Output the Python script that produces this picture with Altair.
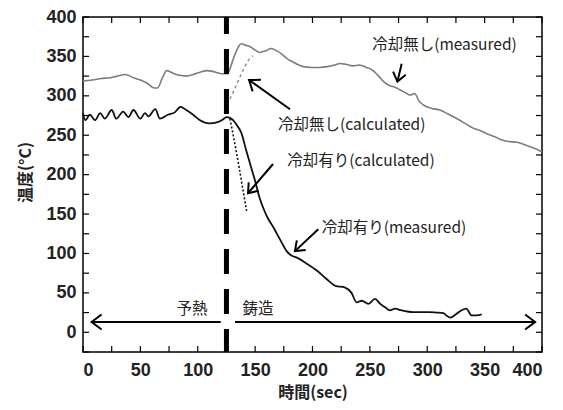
import math
import altair as alt
import pandas as pd

# ---------------- data ----------------
# 冷却無し (measured) – gray
nc_x = [0, 8, 16, 24, 30, 37, 44, 50, 56, 62, 65, 69, 73, 78, 84, 90, 96, 102, 108, 113, 118,
        122, 126, 128, 131, 134, 138, 142, 146, 150, 154, 159, 164, 169, 174, 178, 183, 188, 192,
        199, 206, 213, 219, 224, 229, 235, 241, 247, 252, 257, 262, 267, 272, 277, 281, 285, 289,
        293, 297, 304, 311, 318, 326, 333, 340, 346, 352, 359, 365, 371, 378, 385, 392, 397, 400]
nc_y = [319, 320, 322, 323, 325, 327, 323, 320, 316, 310, 310, 322, 332, 329, 326, 325, 327,
        330, 332, 331, 329, 328, 328, 334, 347, 358, 366, 364, 362, 358, 355, 357, 360, 357, 352,
        347, 343, 339, 337, 336, 336, 337, 339, 341, 340, 338, 339, 336, 333, 326, 318, 313, 311,
        307, 304, 301, 303, 293, 288, 284, 282, 277, 271, 265, 259, 256, 252, 248, 244, 242, 241,
        238, 234, 231, 229]

# 冷却有り (measured) – black
c_x = [0, 2, 6, 10.5, 15, 19, 25, 29, 35, 39.5, 44, 50, 54, 57, 63, 67, 74, 80, 85, 90, 96, 102,
       110, 118, 122, 125, 128, 131, 134, 138, 142, 146, 150, 154, 157, 161, 166, 172, 177.5, 182,
       186, 195, 204, 212, 220, 228, 234, 238.5, 243, 248.6, 254.5, 259, 263, 267.5, 272, 277, 282,
       288, 294, 302, 308, 314, 317, 320, 325.6, 330, 334, 338.7, 343, 347.5]
c_y = [278, 269, 276, 269, 278, 271, 282, 271, 280, 273, 282, 271, 278, 274, 283, 271, 276, 279,
       286, 282, 276, 269, 265, 267, 270, 273, 272, 269, 263, 253, 232, 212, 192, 170, 158, 145,
       133, 117, 103, 97, 95, 87, 78, 68, 59, 57, 50, 38, 40, 36, 42.5, 36, 32, 27.7, 30, 28, 26.5,
       25.5, 25.6, 25.6, 25, 24.4, 21, 18.5, 23.5, 28, 30, 21.4, 21.5, 22.7]

# calculated curves (dotted)
ncc_x = [128, 132, 135, 138, 141, 144, 148]
ncc_y = [296, 308, 318, 328, 337, 345, 351]
cc_x = [128, 130, 133, 136, 139, 142.6]
cc_y = [271, 257, 234, 210, 184, 154]

# axes
x_major = list(range(0, 401, 50))
y_major = list(range(0, 401, 50))
x_minor = list(range(0, 401, 25))
y_minor = list(range(-25, 401, 25))
X_DOM = [0, 400]
Y_DOM = [-25, 400]

# phase boundary (preheat / casting)
boundary_x = [125]

# annotations
ann_text = ["冷却無し(measured)", "冷却無し(calculated)", "冷却有り(calculated)", "冷却有り(measured)"]
ann_x = [252, 170, 178, 208]
ann_y = [364, 263, 217, 132]

phase_text = ["予熱", "鋳造"]
phase_x = [95, 152.5]
phase_y = [30, 30]

# arrows: start -> tip
arr_x1 = [277.7, 180.4, 165.6, 205, 120, 132.5]
arr_y1 = [340.8, 283, 213.5, 130.7, 13, 13]
arr_x2 = [274, 144.7, 143.8, 184.7, 7.5, 394]
arr_y2 = [318, 320, 176.5, 103, 13, 13]
arr_size = [300, 360, 300, 300, 400, 400]

# ---------------- layout ----------------
W, H = 459, 335
kx = W / (X_DOM[1] - X_DOM[0])
ky = H / (Y_DOM[1] - Y_DOM[0])
arr_ang = []
for a, b, c, d in zip(arr_x1, arr_y1, arr_x2, arr_y2):
    ang = math.degrees(math.atan2(-(d - b) * ky, (c - a) * kx)) % 360
    arr_ang.append(ang)

XS = alt.Scale(domain=X_DOM, nice=False, zero=False)
YS = alt.Scale(domain=Y_DOM, nice=False, zero=False)

FONT_NUM = "Liberation Sans"
FONT_JP = "Noto Sans CJK JP"

AX = alt.Axis(values=x_major, ticks=False, domain=False, grid=False,
              labelFont=FONT_NUM, labelFontSize=18, labelFontWeight="bold",
              labelColor="#222", labelPadding=9,
              title="時間(sec)", titleFont=FONT_JP, titleFontSize=16,
              titleFontWeight="bold", titleColor="#222", titlePadding=5)
AY = alt.Axis(values=y_major, ticks=False, domain=False, grid=False,
              labelFont=FONT_NUM, labelFontSize=18, labelFontWeight="bold",
              labelColor="#222", labelPadding=7,
              title="温度(°C)", titleFont=FONT_JP, titleFontSize=16,
              titleFontWeight="bold", titleColor="#222",
              titleX=-50, titleY=155)


def ex(field):
    return alt.X(field, scale=XS, axis=AX, title="時間(sec)")


def ey(field):
    return alt.Y(field, scale=YS, axis=AY, title="温度(°C)")


nc = pd.DataFrame({"x": nc_x, "y": nc_y})
cm = pd.DataFrame({"x": c_x, "y": c_y})
ncc = pd.DataFrame({"x": ncc_x, "y": ncc_y})
ccd = pd.DataFrame({"x": cc_x, "y": cc_y})

gray_line = alt.Chart(nc).mark_line(color="#7d7d7d", strokeWidth=1.6, interpolate="monotone").encode(
    x=ex("x:Q"), y=ey("y:Q"))

black_line = alt.Chart(cm).mark_line(color="#111", strokeWidth=1.8, interpolate="monotone").encode(
    x=ex("x:Q"), y=ey("y:Q"))

gray_calc = alt.Chart(ncc).mark_line(color="#8a8a8a", strokeWidth=1.4, strokeDash=[3, 3]).encode(
    x=ex("x:Q"), y=ey("y:Q"))

black_calc = alt.Chart(ccd).mark_line(color="#111", strokeWidth=1.6, strokeDash=[2, 2]).encode(
    x=ex("x:Q"), y=ey("y:Q"))

bnd = pd.DataFrame({"x": boundary_x, "top": [Y_DOM[1]], "bot": [Y_DOM[0]]})
boundary = alt.Chart(bnd).mark_rule(color="black", strokeWidth=5, strokeDash=[25, 15],
                                    strokeDashOffset=8).encode(
    x=ex("x:Q"), y=ey("top:Q"), y2="bot:Q")

# inward ticks
tb = pd.DataFrame({"v": x_minor, "lo": Y_DOM[0], "hi": Y_DOM[1]})
tl = pd.DataFrame({"v": y_minor, "lo": X_DOM[0], "hi": X_DOM[1]})
tick_style = dict(color="black", strokeWidth=1.2)
ticks_b = alt.Chart(tb).mark_rule(y2Offset=-6, **tick_style).encode(
    x=ex("v:Q"), y=ey("lo:Q"), y2="lo:Q")
ticks_t = alt.Chart(tb).mark_rule(y2Offset=6, **tick_style).encode(
    x=ex("v:Q"), y=ey("hi:Q"), y2="hi:Q")
ticks_l = alt.Chart(tl).mark_rule(x2Offset=6, **tick_style).encode(
    y=ey("v:Q"), x=ex("lo:Q"), x2="lo:Q")
ticks_r = alt.Chart(tl).mark_rule(x2Offset=-6, **tick_style).encode(
    y=ey("v:Q"), x=ex("hi:Q"), x2="hi:Q")

ann = pd.DataFrame({"t": ann_text, "x": ann_x, "y": ann_y})
ann_layer = alt.Chart(ann).mark_text(align="left", baseline="middle", font=FONT_JP,
                                     fontSize=15.5, color="#222").encode(
    x=ex("x:Q"), y=ey("y:Q"), text="t:N")

ph = pd.DataFrame({"t": phase_text, "x": phase_x, "y": phase_y})
ph_layer = alt.Chart(ph).mark_text(align="center", baseline="middle", font=FONT_JP,
                                   fontSize=15.5, color="#222").encode(
    x=ex("x:Q"), y=ey("y:Q"), text="t:N")

arr = pd.DataFrame({"x1": arr_x1, "y1": arr_y1, "x2": arr_x2, "y2": arr_y2,
                    "ang": arr_ang, "s": arr_size})
arr_lines = alt.Chart(arr).mark_rule(color="black", strokeWidth=2).encode(
    x=ex("x1:Q"), y=ey("y1:Q"), x2="x2:Q", y2="y2:Q")
arr_heads = alt.Chart(arr).mark_point(shape="M-1,-0.75L0,0L-1,0.75", filled=False,
                                      color="black", strokeWidth=2, opacity=1).encode(
    x=ex("x2:Q"), y=ey("y2:Q"),
    angle=alt.Angle("ang:Q", scale=None), size=alt.Size("s:Q", scale=None, legend=None))

chart = alt.layer(
    gray_line, black_line, gray_calc, black_calc, boundary,
    ticks_b, ticks_t, ticks_l, ticks_r,
    arr_lines, arr_heads, ann_layer, ph_layer,
).properties(
    width=W, height=H,
    autosize=alt.AutoSizeParams(type="none"),
    padding={"left": 75, "top": 9, "right": 13, "bottom": 50},
    background="white",
).configure_view(stroke="black", strokeWidth=1.5)

chart.save("out.html", embed_options={"renderer": "svg", "actions": False})
